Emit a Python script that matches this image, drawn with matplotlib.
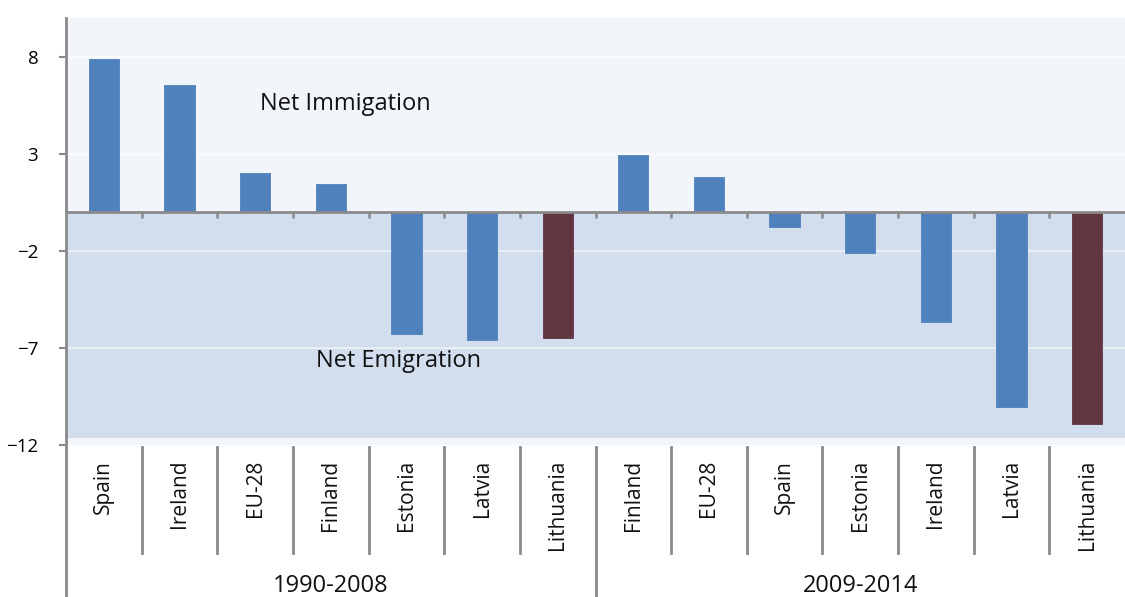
import matplotlib.pyplot as plt
import matplotlib.markers as mmarkers

plt.rcParams['font.family'] = ['Open Sans', 'DejaVu Sans']

# net migration per 1000 inhabitants, two periods
countries_1 = ["Spain", "Ireland", "EU-28", "Finland", "Estonia", "Latvia", "Lithuania"]
values_1 = [7.9, 6.55, 2.0, 1.45, -6.3, -6.6, -6.5]
countries_2 = ["Finland", "EU-28", "Spain", "Estonia", "Ireland", "Latvia", "Lithuania"]
values_2 = [2.95, 1.8, -0.75, -2.1, -5.65, -10.05, -10.9]
periods = ["1990-2008", "2009-2014"]
yticks = [8, 3, -2, -7, -12]

labels = countries_1 + countries_2
values = values_1 + values_2
n = len(labels)

blue = "#4f81bd"
maroon = "#613640"
axis_grey = "#8a8a8a"

fig = plt.figure(figsize=(11.25, 5.97), dpi=100)
ax = fig.add_axes([0.0587, 0.2546, 0.9413, 0.7152])
ax.set_xlim(0, n)
ax.set_ylim(-12, 10)
ax.set_facecolor("#f2f6fb")

# emigration zone
ax.axhspan(-11.65, 0, color="#d2deed", zorder=0, lw=0)
for y in yticks[:-1]:
    ax.axhline(y, color="white", lw=1.5, alpha=0.5, zorder=1)

xs = [i + 0.5 for i in range(n)]
colors = [maroon if c == "Lithuania" else blue for c in labels]
ax.bar(xs, values, width=0.4, color=colors, edgecolor=colors, lw=0.6, zorder=2)

# zero line with small ticks between categories
ax.axhline(0, color=axis_grey, lw=2, zorder=3)
ax.plot(range(1, n), [0] * (n - 1), ls="none", marker=mmarkers.TICKDOWN,
        ms=4.5, mew=1.8, color=axis_grey, zorder=3)

ax.text(3.69, 5.55, "Net Immigation", fontsize=17, ha="center", va="center", color="#111111")
ax.text(4.39, -7.65, "Net Emigration", fontsize=17, ha="center", va="center", color="#111111")

for s in ["top", "right", "bottom", "left"]:
    ax.spines[s].set_visible(False)
ax.plot([0, 0], [1.0, -0.356], transform=ax.transAxes, color=axis_grey, lw=2,
        clip_on=False, zorder=4)

ax.set_yticks(yticks)
ax.tick_params(axis="y", direction="out", length=5, width=1.5, color=axis_grey,
               labelsize=13.5, pad=15)
ax.set_xticks([])

# category labels and separators below the plot
for i, lab in enumerate(labels):
    ax.text(i + 0.5, -0.035, lab, rotation=90, ha="center", va="top", fontsize=15,
            transform=ax.get_xaxis_transform(), color="#111111")
for i in range(1, n):
    bottom = -0.356 if i == len(countries_1) else -0.253
    ax.plot([i, i], [-0.005, bottom], transform=ax.get_xaxis_transform(),
            color=axis_grey, lw=2, clip_on=False)

ax.text(len(countries_1) / 2, -0.33, periods[0], ha="center", va="center", fontsize=17,
        transform=ax.get_xaxis_transform(), color="#111111")
ax.text(len(countries_1) + len(countries_2) / 2, -0.33, periods[1], ha="center", va="center",
        fontsize=17, transform=ax.get_xaxis_transform(), color="#111111")

fig.savefig("out.png", dpi=100)
